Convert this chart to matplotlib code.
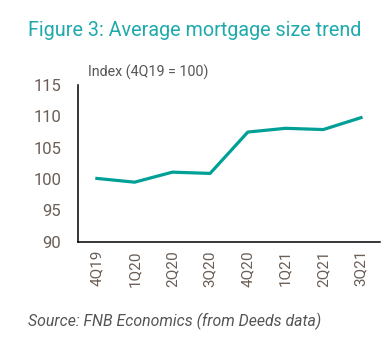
import matplotlib.pyplot as plt

quarters = ['4Q19', '1Q20', '2Q20', '3Q20', '4Q20', '1Q21', '2Q21', '3Q21']
index_vals = [100.1, 99.5, 101.1, 100.9, 107.5, 108.1, 107.9, 109.8]
yticks = [90, 95, 100, 105, 110, 115]

fig = plt.figure(figsize=(3.87, 3.53), dpi=100)
ax = fig.add_axes([0.2016, 0.3153, 0.78, 0.4437])

ax.plot(range(len(quarters)), index_vals, color='#00a096', lw=2.3)
ax.set_xlim(-0.5, len(quarters) - 0.5)
ax.set_ylim(90, 115)
ax.set_yticks(yticks)
ax.set_xticks(range(len(quarters)))
ax.set_xticklabels(quarters, rotation=90)

for s in ['top', 'right']:
    ax.spines[s].set_visible(False)
ax.spines['left'].set_linewidth(1.1)
ax.spines['bottom'].set_linewidth(1.1)
ax.tick_params(axis='both', length=0, labelcolor='#6a5e56')
ax.tick_params(axis='y', labelsize=12, pad=12)
ax.tick_params(axis='x', labelsize=11, pad=6)
for lab in ax.get_yticklabels() + ax.get_xticklabels():
    lab.set_family('Roboto')

fig.text(28/387, 1 - 30/353, 'Figure 3: Average mortgage size trend',
         family='Roboto', fontsize=14.2, color='#1ea9ad', va='center')
fig.text(88/387, 1 - 72/353, 'Index (4Q19 = 100)',
         family='Roboto', fontsize=10.3, color='#555555', va='center')
fig.text(28/387, 1 - 321/353, 'Source: FNB Economics (from Deeds data)',
         family='Roboto', style='italic', fontsize=11.4, color='#555555',
         va='center')

fig.savefig('out.png', dpi=100)
